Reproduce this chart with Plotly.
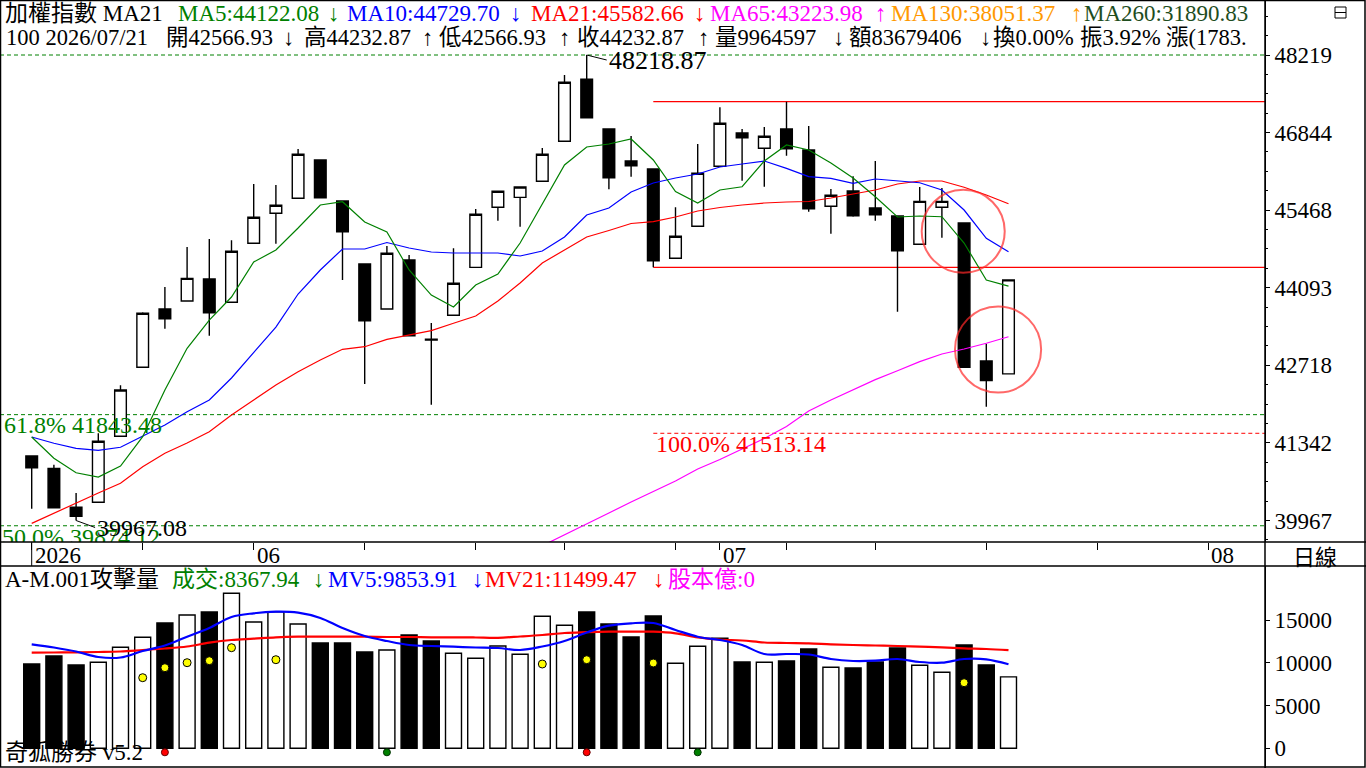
import datetime as dt
import plotly.graph_objects as go

# ---------------- data ----------------
dates = ["2026-05-18", "2026-05-19", "2026-05-20", "2026-05-21", "2026-05-22",
         "2026-05-25", "2026-05-26", "2026-05-27", "2026-05-28", "2026-05-29",
         "2026-06-01", "2026-06-02", "2026-06-03", "2026-06-04", "2026-06-05",
         "2026-06-08", "2026-06-09", "2026-06-10", "2026-06-11", "2026-06-12",
         "2026-06-15", "2026-06-16", "2026-06-17", "2026-06-18",
         "2026-06-22", "2026-06-23", "2026-06-24", "2026-06-25", "2026-06-26",
         "2026-06-29", "2026-06-30",
         "2026-07-01", "2026-07-02", "2026-07-03",
         "2026-07-06", "2026-07-07", "2026-07-08", "2026-07-09",
         "2026-07-13", "2026-07-14", "2026-07-15", "2026-07-16", "2026-07-17",
         "2026-07-20", "2026-07-21"]

opens = [41110, 40892, 40201, 40290, 41460, 42683, 43716, 43858, 44248, 43835,
         44881, 45413, 45679, 46358, 45631, 44514, 43716, 44585, 43180, 43605,
         44455, 45519, 45696, 45980, 46689, 47788, 46907, 46340, 46198, 44615,
         45182, 46246, 46836, 46565, 46907, 46535, 45537, 45808, 45507, 45365,
         44863, 45519, 45241, 42794, 42566.93]
highs = [41110, 40956, 40454, 41513.14, 42364, 43660, 44106, 44815, 44957, 44934,
         45932, 45914, 46553, 46358, 45631, 44514, 44833, 44674, 43468, 44792,
         45489, 45803, 45879, 46570, 47864, 48218.87, 46907, 46783, 46198, 45519,
         46641, 47292, 46907, 46943, 47391, 46960, 45844, 46069, 46340, 45365,
         45879, 45861, 45241, 43101, 44232.87]
lows = [40176, 40180, 39967.08, 40290, 41460, 42683, 43367, 43858, 43243, 43835,
        44881, 44874, 45679, 45689, 44230, 42387, 43716, 43243, 42020, 43605,
        44455, 45282, 45175, 45980, 46689, 47107, 45838, 46062, 44455, 44615,
        45182, 46246, 45991, 45884, 46434, 45441, 45051, 45352, 45282, 43668,
        44863, 44980, 42683, 41984, 42566.93]
closes = [40903, 40194, 40041, 41371, 42280, 43640, 43544, 44260, 43651, 44739,
          45342, 45555, 46459, 45689, 45087, 43509, 44704, 43243, 43165, 44172,
          45395, 45803, 45879, 46459, 47735, 47107, 46044, 46257, 44573, 45005,
          46122, 47008, 46753, 46778, 46558, 45494, 45732, 45370, 45388, 44750,
          45625, 45625, 42683, 42449, 44232.87]

ma5 = [41447, 41070, 40814, 40738, 40933, 41453, 42280, 43020, 43521, 43929,
       44549, 44762, 45152, 45560, 45618, 45259, 45081, 44408, 43964, 43752,
       44142, 44337, 44886, 45578, 46269, 46588, 46641, 46730, 46358, 45799,
       45595, 45826, 45884, 46340, 46624, 46535, 46304, 46039, 45707, 45347,
       45365, 45352, 44886, 44230, 44122.08]
ma10 = [41447, 41336, 41247, 41211, 41265, 41465, 41660, 41896, 42103, 42493,
        42954, 43397, 43982, 44408, 44780, 44780, 44895, 44798, 44727, 44709,
        44709, 44709, 44656, 44744, 44993, 45383, 45507, 45790, 45950, 46039,
        46109, 46234, 46287, 46340, 46210, 46062, 46033, 45945, 46021, 45985,
        45955, 45826, 45471, 44970, 44729.70]
ma21 = [39917, 40100, 40277, 40454, 40626, 40921, 41158, 41341, 41541, 41837,
        42103, 42369, 42605, 42812, 43002, 43048, 43179, 43255, 43332, 43463,
        43592, 43858, 44177, 44532, 44762, 44993, 45108, 45232, 45264, 45347,
        45454, 45516, 45560, 45595, 45613, 45622, 45684, 45755, 45826, 45932,
        45985, 45985, 45874, 45737, 45582.66]
ma65_start = 23
ma65 = [39520, 39710, 39910, 40100, 40295, 40478, 40667, 40880, 41048, 41234,
        41421, 41633, 41908, 42103, 42289, 42465, 42621, 42784, 42919, 43007,
        43110, 43223.98]

volume = [9880, 10817, 9762, 10078, 11836, 13008, 14684, 15622, 15973, 18165,
          14801, 16009, 14567, 12340, 12340, 11286, 11520, 13278, 12575, 11133,
          10547, 11989, 11016, 15469, 14414, 15973, 14567, 13043, 15504, 9961,
          11954, 12891, 10114, 10078, 10231, 11637, 9492, 9410, 10114, 11754,
          9727, 8907, 12106, 9762, 8367.94]
mv5 = [12188, 11813, 11344, 10700, 10641, 11403, 12047, 13079, 14098, 15387,
       15821, 16008, 15891, 15270, 14098, 13161, 12575, 12106, 11989, 11907,
       11813, 11754, 11520, 11930, 12575, 13571, 14368, 14649, 14684, 13864,
       13079, 12692, 12106, 11051, 11051, 10993, 10465, 10231, 10266, 10465,
       10114, 10032, 10465, 10430, 9853.91]
mv21 = [11203, 11227, 11250, 11286, 11344, 11520, 11696, 11930, 12375, 12692,
        12844, 13008, 13079, 13079, 13079, 13079, 13043, 13043, 13008, 13008,
        12985, 12950, 13102, 13278, 13512, 13606, 13665, 13665, 13665, 13477,
        13008, 12750, 12633, 12399, 12340, 12305, 12188, 12106, 12047, 11989,
        11907, 11836, 11719, 11637, 11499.47]

attack_idx = [5, 6, 7, 8, 9, 11, 23, 25, 28, 42]
attack_val = [8274, 9446, 10032, 10266, 11790, 10383, 9879, 10383, 9996, 7688]
buy_sig_idx = [6, 25]
sell_sig_idx = [16, 30]

fib_levels = [48218.87, 41843.48, 39874.12]       # 0%, 61.8%, 50% (green dashed)
fib_100 = 41513.14                                 # 100% (red dashed)
fib_start = 28
y_ticks = [39967, 41342, 42718, 44093, 45468, 46844, 48219]
v_ticks = [0, 5000, 10000, 15000]

future_ticks = [48, 53]
future_month_labels = {53: "08"}

# ---------------- layout constants ----------------
W, H = 1366, 768
RIGHT = 1265
MAIN_BOTTOM = 542
VOL_TOP = 566
X_RANGE = [-1.428, 55.554]
Y_RANGE = [39586, 49194]
V_RANGE = [-2309, 21364]
FONT = "Liberation Serif, Noto Sans CJK TC, serif"
CJK = "Noto Sans CJK TC, Liberation Serif, sans-serif"


def px(x):
    return x / W


def py(y):
    return 1 - y / H


x = list(range(len(dates)))
d = [dt.date.fromisoformat(s) for s in dates]
month_ticks = [i for i in x if i == 0 or d[i].month != d[i - 1].month]
week_ticks = [i for i in x if i > 0 and d[i].isocalendar()[1] != d[i - 1].isocalendar()[1]]
all_ticks = sorted(set(month_ticks + week_ticks + future_ticks))
month_labels = {i: ("%d" % d[i].year if i == 0 else "%02d" % d[i].month) for i in month_ticks}
month_labels.update(future_month_labels)

vol_colors = ["white" if c >= o else "black" for o, c in zip(opens, closes)]

fig = go.Figure()

fig.add_trace(go.Candlestick(
    x=x, open=opens, high=highs, low=lows, close=closes,
    increasing=dict(line=dict(color="black", width=1.4), fillcolor="white"),
    decreasing=dict(line=dict(color="black", width=1.4), fillcolor="black"),
    whiskerwidth=0, hoverinfo="skip", showlegend=False, xaxis="x", yaxis="y"))

for vals, col, start in [(ma21, "#ff0000", 0), (ma10, "#0000ff", 0), (ma5, "#008000", 0),
                         (ma65, "#ff00ff", ma65_start)]:
    fig.add_trace(go.Scatter(x=x[start:start + len(vals)], y=vals, mode="lines",
                             line=dict(color=col, width=1.2), hoverinfo="skip",
                             showlegend=False, xaxis="x", yaxis="y"))

# 50% label, partly clipped by the axis box
fig.add_trace(go.Scatter(x=[X_RANGE[0] + 0.09], y=[39640], mode="text",
                         text=["50.0% 39874.12"], textposition="middle right",
                         textfont=dict(family=FONT, size=24, color="#008000"),
                         cliponaxis=True, hoverinfo="skip", showlegend=False,
                         xaxis="x", yaxis="y"))

# volume panel
fig.add_trace(go.Bar(x=x, y=volume, width=0.72,
                     marker=dict(color=vol_colors, line=dict(color="black", width=1.4)),
                     hoverinfo="skip", showlegend=False, xaxis="x2", yaxis="y2"))
fig.add_trace(go.Scatter(x=x, y=mv21, mode="lines", line=dict(color="#ff0000", width=2.2, shape="spline"),
                         hoverinfo="skip", showlegend=False, xaxis="x2", yaxis="y2"))
fig.add_trace(go.Scatter(x=x, y=mv5, mode="lines", line=dict(color="#0000ff", width=2.2, shape="spline"),
                         hoverinfo="skip", showlegend=False, xaxis="x2", yaxis="y2"))
fig.add_trace(go.Scatter(x=attack_idx, y=attack_val, mode="markers",
                         marker=dict(size=8, color="#ffff00", line=dict(color="black", width=1)),
                         hoverinfo="skip", showlegend=False, xaxis="x2", yaxis="y2"))
fig.add_trace(go.Scatter(x=buy_sig_idx, y=[-470] * len(buy_sig_idx), mode="markers",
                         marker=dict(size=7, color="#ff0000", line=dict(color="#600000", width=1)),
                         cliponaxis=False, hoverinfo="skip", showlegend=False, xaxis="x2", yaxis="y2"))
fig.add_trace(go.Scatter(x=sell_sig_idx, y=[-470] * len(sell_sig_idx), mode="markers",
                         marker=dict(size=7, color="#008000", line=dict(color="#003000", width=1)),
                         cliponaxis=False, hoverinfo="skip", showlegend=False, xaxis="x2", yaxis="y2"))

shapes = []
# Fibonacci lines
for lv in fib_levels:
    shapes.append(dict(type="line", xref="paper", yref="y", x0=0, x1=RIGHT / W, y0=lv, y1=lv,
                       line=dict(color="#008000", width=1, dash="4px,3px"), layer="below"))
shapes.append(dict(type="line", xref="x", yref="y", x0=fib_start, x1=X_RANGE[1], y0=fib_100, y1=fib_100,
                   line=dict(color="#ff0000", width=1, dash="4px,3px"), layer="below"))
# box lines
for lv in [highs[34], lows[28]]:
    shapes.append(dict(type="line", xref="x", yref="y", x0=fib_start, x1=X_RANGE[1], y0=lv, y1=lv,
                       line=dict(color="#ff0000", width=1.2), layer="below"))
# circles (center index, center price, radius index, radius price)
for cx, cy, rx, ry in [(41.96, 45094, 1.87, 736), (43.53, 42998, 1.94, 762)]:
    shapes.append(dict(type="circle", xref="x", yref="y", x0=cx - rx, x1=cx + rx, y0=cy - ry, y1=cy + ry,
                       line=dict(color="rgba(255,40,40,0.7)", width=2), layer="above"))
# frame / separators
shapes += [
    dict(type="line", xref="paper", yref="paper", x0=px(RIGHT), x1=px(RIGHT), y0=0, y1=1,
         line=dict(color="black", width=1.5)),
    dict(type="line", xref="paper", yref="paper", x0=0, x1=1, y0=py(MAIN_BOTTOM), y1=py(MAIN_BOTTOM),
         line=dict(color="black", width=1.5)),
    dict(type="line", xref="paper", yref="paper", x0=0, x1=1, y0=py(VOL_TOP), y1=py(VOL_TOP),
         line=dict(color="black", width=1.5)),
    dict(type="rect", xref="paper", yref="paper", x0=px(0.5), x1=px(1365), y0=py(767), y1=py(0.5),
         line=dict(color="black", width=1.5)),
    dict(type="line", xref="x", yref="paper", x0=0, x1=0, y0=py(MAIN_BOTTOM), y1=py(VOL_TOP),
         line=dict(color="black", width=1)),
    dict(type="rect", xref="paper", yref="paper", x0=px(1335), x1=px(1346), y0=py(18), y1=py(7),
         line=dict(color="black", width=1)),
    dict(type="line", xref="paper", yref="paper", x0=px(1335), x1=px(1346), y0=py(12.5), y1=py(12.5),
         line=dict(color="black", width=1)),
]

ann = []


def text(t, xp, yp, color="black", size=23, family=FONT, xanchor="left"):
    ann.append(dict(text=t, x=px(xp), y=py(yp), xref="paper", yref="paper", showarrow=False,
                    xanchor=xanchor, yanchor="middle", font=dict(family=family, size=size, color=color)))


# header row 1
for t, xp, c in [("加權指數 MA21", 3, "black"), ("MA5:44122.08", 176, "#008000"), ("↓", 326, "#008000"),
                 ("MA10:44729.70", 345, "#0000ff"), ("↓", 508, "#0000ff"),
                 ("MA21:45582.66", 529, "#ff0000"), ("↓", 692, "#ff0000"),
                 ("MA65:43223.98", 708, "#ff00ff"), ("↑", 873, "#ff00ff"),
                 ("MA130:38051.37", 889, "#ff9900"), ("↑", 1069, "#ff9900"),
                 ("MA260:31890.83", 1082, "#1e4d1e")]:
    text(t, xp, 13, c)
# header row 2
for t, xp in [("100 2026/07/21", 4), ("開42566.93", 164), ("↓", 281), ("高44232.87", 302), ("↑", 420),
              ("低42566.93", 437), ("↑", 557), ("收44232.87", 575), ("↑", 696), ("量9964597", 713),
              ("↓", 831), ("額83679406", 847), ("↓", 978), ("換0.00%", 991), ("振3.92%", 1078),
              ("漲(1783.", 1164)]:
    text(t, xp, 37, size=22.5)
# volume header
for t, xp, c in [("A-M.001攻擊量", 3, "black"), ("成交:8367.94", 170, "#008000"), ("↓", 311, "#008000"),
                 ("MV5:9853.91", 326, "#0000ff"), ("↓", 470, "#0000ff"),
                 ("MV21:11499.47", 483, "#ff0000"), ("↓", 651, "#ff0000"),
                 ("股本億:0", 666, "#ff00ff")]:
    text(t, xp, 579, c)
text("奇狐勝券 v5.2", 3, 752)
text("日線", 1315, 555, xanchor="center", family=CJK, size=22)
# fib labels
text("61.8% 41843.48", 2, 425, "#008000", 24)
text("100.0% 41513.14", 654, 444, "#ff0000", 24)

# date labels
for i, lab in month_labels.items():
    ann.append(dict(text=lab, x=i, xref="x", y=py(555), yref="paper", xanchor="left", yanchor="middle",
                    xshift=1, showarrow=False, font=dict(family=FONT, size=23, color="black")))

# high / low labels
ann.append(dict(text="48218.87", x=highs.index(max(highs)), y=max(highs), xref="x", yref="y",
                showarrow=True, arrowhead=0, arrowwidth=1, arrowcolor="black", ax=20, ay=5,
                xanchor="left", yanchor="middle", standoff=0,
                font=dict(family=FONT, size=26, color="black")))
ann.append(dict(text="39967.08", x=lows.index(min(lows)), y=min(lows), xref="x", yref="y",
                showarrow=True, arrowhead=0, arrowwidth=1, arrowcolor="black", ax=19, ay=7,
                xanchor="left", yanchor="middle", standoff=0,
                font=dict(family=FONT, size=24, color="black")))

fig.update_layout(
    width=W, height=H, margin=dict(l=0, r=0, t=0, b=0),
    paper_bgcolor="white", plot_bgcolor="white", showlegend=False,
    boxgap=0.25, barmode="overlay",
    shapes=shapes, annotations=ann,
    xaxis=dict(domain=[0, RIGHT / W], range=X_RANGE, anchor="y", showgrid=False, zeroline=False,
               showticklabels=False, ticks="outside", ticklen=7, tickwidth=1, tickcolor="black",
               tickvals=all_ticks, rangeslider=dict(visible=False), fixedrange=True),
    yaxis=dict(domain=[py(MAIN_BOTTOM), 1], range=Y_RANGE, side="right", anchor="x",
               showgrid=False, zeroline=False, showline=True, linecolor="black", linewidth=1,
               ticks="outside", ticklen=4, tickcolor="black", tickvals=y_ticks,
               ticktext=[str(v) for v in y_ticks], tickfont=dict(family=FONT, size=23, color="black"),
               minor=dict(ticks="outside", ticklen=2, tickcolor="black", tickmode="linear",
                          tick0=y_ticks[0], dtick=(y_ticks[-1] - y_ticks[0]) / 24),
               fixedrange=True),
    xaxis2=dict(domain=[0, RIGHT / W], range=X_RANGE, anchor="y2", showgrid=False, zeroline=False,
                showticklabels=False, ticks="", fixedrange=True),
    yaxis2=dict(domain=[0, py(VOL_TOP)], range=V_RANGE, side="right", anchor="x2",
                showgrid=False, zeroline=False, showline=True, linecolor="black", linewidth=1,
                ticks="outside", ticklen=4, tickcolor="black", tickvals=v_ticks,
                ticktext=[str(v) for v in v_ticks],
                tickfont=dict(family=FONT, size=23, color="black"), fixedrange=True),
)

fig.write_html("out.html", config={"displayModeBar": False, "staticPlot": True},
               post_script="document.body.style.margin='0';")
